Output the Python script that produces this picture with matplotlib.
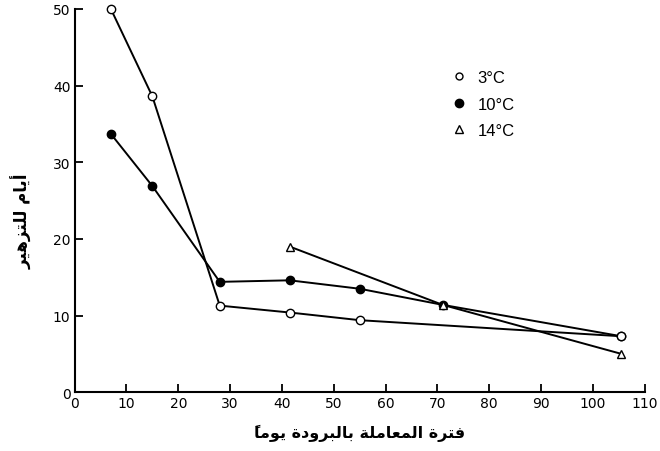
import matplotlib
matplotlib.use("Agg")
import matplotlib.pyplot as plt
from matplotlib.lines import Line2D

# ---- data ----
x_3c = [7, 15, 28, 41.5, 55, 105.5]
y_3c = [50, 38.6, 11.3, 10.4, 9.4, 7.3]
x_10c = [7, 15, 28, 41.5, 55, 71, 105.5]
y_10c = [33.7, 26.9, 14.4, 14.6, 13.5, 11.4, 7.3]
x_14c = [41.5, 71, 105.5]
y_14c = [19.0, 11.4, 5.0]
series_labels = ["3°C", "10°C", "14°C"]
xticks = list(range(0, 111, 10))
yticks = list(range(0, 51, 10))
xlabel_ar = "فترة المعاملة بالبرودة يوماً"
ylabel_ar = "أيام للتزهير"

# ---- minimal Arabic shaping (presentation forms, visual order) ----
DUAL = {'ب': 0xFE8F, 'ت': 0xFE95, 'ع': 0xFEC9, 'ف': 0xFED1, 'ل': 0xFEDD,
        'م': 0xFEE1, 'ه': 0xFEE9, 'ي': 0xFEF1}
RIGHT = {'ا': 0xFE8D, 'أ': 0xFE83, 'د': 0xFEA9, 'ر': 0xFEAD, 'ز': 0xFEAF,
         'و': 0xFEED, 'ة': 0xFE93}
MARKS = {'\u064B'}


def shape_word(w):
    letters = list(w)
    idx = [i for i, c in enumerate(letters) if c not in MARKS]
    groups = []
    for k, i in enumerate(idx):
        c = letters[i]
        prev = letters[idx[k - 1]] if k > 0 else None
        nxt = letters[idx[k + 1]] if k + 1 < len(idx) else None
        join_prev = prev is not None and prev in DUAL
        join_next = nxt is not None and c in DUAL and (nxt in DUAL or nxt in RIGHT)
        if c in DUAL:
            base = DUAL[c]
            if join_prev and join_next:
                g = base + 3
            elif join_prev:
                g = base + 1
            elif join_next:
                g = base + 2
            else:
                g = base
        elif c in RIGHT:
            g = RIGHT[c] + (1 if join_prev else 0)
        else:
            g = ord(c)
        marks = ""
        j = i + 1
        while j < len(letters) and letters[j] in MARKS:
            marks += letters[j]
            j += 1
        groups.append(marks + chr(g))
    return "".join(reversed(groups))


def shape(text):
    return " ".join(shape_word(w) for w in reversed(text.split(" ")))


fig = plt.figure(figsize=(6.6, 4.52), dpi=100)
ax = fig.add_axes([0.113, 0.130, 0.864, 0.848])

lw = 1.4
ms = 6
ax.plot(x_10c, y_10c, color="black", lw=lw, marker="o", ms=ms,
        mfc="black", mec="black", clip_on=False, zorder=3)
ax.plot(x_14c, y_14c, color="black", lw=lw, marker="^", ms=ms,
        mfc="white", mec="black", clip_on=False, zorder=4)
ax.plot(x_3c, y_3c, color="black", lw=lw, marker="o", ms=ms,
        mfc="white", mec="black", clip_on=False, zorder=5)

ax.set_xlim(0, 110)
ax.set_ylim(0, 50)
ax.set_xticks(xticks)
ax.set_yticks(yticks)
ax.spines["top"].set_visible(False)
ax.spines["right"].set_visible(False)
ax.spines["left"].set_linewidth(1.5)
ax.spines["bottom"].set_linewidth(1.5)
ax.tick_params(direction="in", length=6, width=1.3, labelsize=10, pad=3)

ax.set_xlabel(shape(xlabel_ar), fontsize=11.5, fontweight="bold",
              family="DejaVu Sans", labelpad=10)
ax.set_ylabel(shape(ylabel_ar), fontsize=12, fontweight="bold",
              family="DejaVu Sans")
ax.yaxis.set_label_coords(-0.073, 0.45)

handles = [
    Line2D([], [], ls="none", marker="o", ms=5, mfc="white", mec="black"),
    Line2D([], [], ls="none", marker="o", ms=6, mfc="black", mec="black"),
    Line2D([], [], ls="none", marker="^", ms=6, mfc="white", mec="black"),
]
ax.legend(handles, series_labels, loc="upper left",
          bbox_to_anchor=(0.634, 0.88), frameon=False,
          handletextpad=0.6, labelspacing=0.7, handlelength=1.0,
          prop={"family": "Liberation Sans", "size": 12})

fig.savefig("out.png", dpi=100)
